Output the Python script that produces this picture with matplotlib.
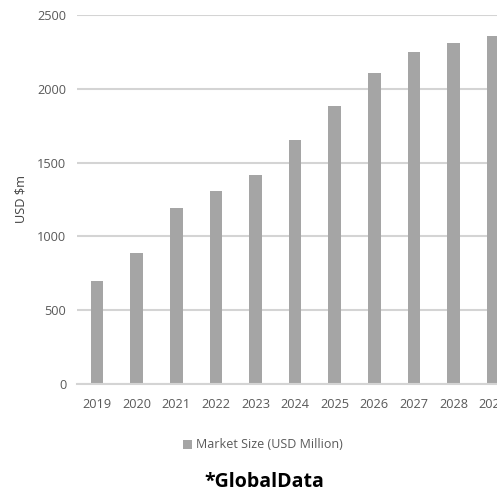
import matplotlib
matplotlib.use("Agg")
import matplotlib.pyplot as plt
from matplotlib.patches import Patch

years = ["2019", "2020", "2021", "2022", "2023", "2024", "2025", "2026", "2027", "2028", "2029"]
market_size = [700, 890, 1195, 1310, 1415, 1655, 1885, 2105, 2250, 2310, 2355]
y_ticks = [0, 500, 1000, 1500, 2000, 2500]

plt.rcParams['font.family'] = ['Open Sans', 'DejaVu Sans']

BAR = "#a5a5a5"
GRID = "#d4d4d4"
TEXT = "#595959"

fig = plt.figure(figsize=(4.97, 4.91), dpi=100)
ax = fig.add_axes([0.1555, 0.2179, 0.8765, 0.7515])

x = list(range(len(years)))
ax.bar(x, market_size, width=0.32, color=BAR, zorder=3)

ax.set_xlim(-0.5, len(years) - 0.5)
ax.set_ylim(0, 2500)
ax.set_yticks(y_ticks)
ax.set_yticklabels([str(v) for v in y_ticks])
ax.set_xticks(x)
ax.set_xticklabels(years)

ax.yaxis.grid(True, color=GRID, linewidth=1.5, zorder=0)
ax.set_axisbelow(True)
for side in ("top", "right", "left"):
    ax.spines[side].set_visible(False)
ax.spines["bottom"].set_color(GRID)
ax.spines["bottom"].set_linewidth(1.5)
ax.spines["bottom"].set_zorder(4)

ax.tick_params(axis="both", length=0, labelsize=9.2, labelcolor=TEXT)
ax.tick_params(axis="x", pad=10)
ax.tick_params(axis="y", pad=8)

fig.text(21 / 497, 1 - 199 / 491, "USD $m", rotation=90, ha="center", va="center",
         fontsize=9.2, color="#404040")

fig.legend(handles=[Patch(facecolor=BAR, edgecolor="none", label="Market Size (USD Million)")],
           loc="center", bbox_to_anchor=(263 / 497, 1 - 445 / 491), frameon=False,
           fontsize=9, labelcolor=TEXT, handlelength=0.7, handleheight=0.7, handletextpad=0.3)

fig.text(264 / 497, 1 - 482 / 491, "*GlobalData", ha="center", va="center",
         fontsize=14, fontweight="bold", color="black")

fig.savefig("out.png", dpi=100)
